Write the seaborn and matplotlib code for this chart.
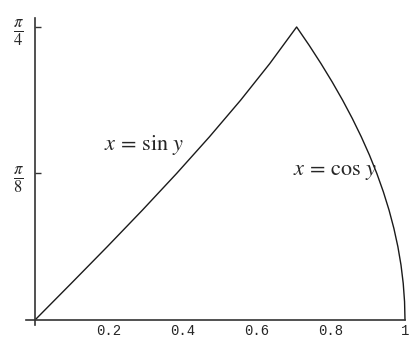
import numpy as np
import pandas as pd
import matplotlib
matplotlib.use("Agg")
import matplotlib.pyplot as plt
import seaborn as sns

# Curve x = sin y, y from 0 to pi/4
y_sin = [0.0, 0.0982, 0.1963, 0.2945, 0.3927, 0.4909, 0.5890, 0.6872, 0.7854]
x_sin = [0.0, 0.0980, 0.1951, 0.2903, 0.3827, 0.4714, 0.5556, 0.6344, 0.7071]
# Curve x = cos y, y from pi/4 down to 0
y_cos = [0.7854, 0.7363, 0.6872, 0.6381, 0.5890, 0.5400, 0.4909, 0.4418, 0.3927,
         0.3436, 0.2945, 0.2454, 0.1963, 0.1473, 0.0982, 0.0491, 0.0]
x_cos = [0.7071, 0.7410, 0.7730, 0.8032, 0.8315, 0.8577, 0.8819, 0.9040, 0.9239,
         0.9415, 0.9569, 0.9700, 0.9808, 0.9892, 0.9952, 0.9988, 1.0]

x_ticks = [0.2, 0.4, 0.6, 0.8, 1.0]
x_ticklabels = ["0.2", "0.4", "0.6", "0.8", "1"]
y_ticks = [0.3927, 0.7854]
y_ticklabels = [r"$\frac{\pi}{8}$", r"$\frac{\pi}{4}$"]

df = pd.DataFrame({"x": x_sin + x_cos[1:], "y": y_sin + y_cos[1:]})

sns.set_style("white")
plt.rcParams["mathtext.fontset"] = "stix"

fig = plt.figure(figsize=(4.09, 3.39), dpi=100)
ax = fig.add_axes([26 / 409, 14 / 339, 379 / 409, 307 / 339])

sns.lineplot(data=df, x="x", y="y", sort=False, estimator=None, color="#1a1a1a",
             linewidth=1.0, ax=ax, clip_on=False)

ax.set_xlim(-0.0243, 1.0)
ax.set_ylim(-0.0134, 0.8095)

for s in ["top", "right"]:
    ax.spines[s].set_visible(False)
ax.spines["left"].set_position(("data", 0))
ax.spines["bottom"].set_position(("data", 0))
for s in ["left", "bottom"]:
    ax.spines[s].set_color("#333333")
    ax.spines[s].set_linewidth(1.2)

ax.set_xticks(x_ticks)
ax.set_xticklabels(x_ticklabels, family="Liberation Mono", fontsize=10)
ax.set_xticks(np.arange(0.05, 1.0, 0.05), minor=True)
ax.set_yticks(y_ticks)
ax.set_yticklabels(y_ticklabels, fontsize=17)
ax.tick_params(axis="x", which="major", direction="in", length=4, width=1,
               color="#333333", pad=3)
ax.tick_params(axis="x", which="minor", direction="in", length=2.5, width=1,
               color="#333333")
ax.tick_params(axis="y", which="major", direction="in", length=4, width=1,
               color="#333333", pad=8, left=True)
ax.set_xlabel("")
ax.set_ylabel("")

ax.text(0.295, 0.469, r"$x\,=\,\sin\,y$", fontsize=16, ha="center", va="center")
ax.text(0.811, 0.397, r"$x\,=\,\cos\,y$", fontsize=16, ha="center", va="center")

fig.savefig("out.png", dpi=100)
